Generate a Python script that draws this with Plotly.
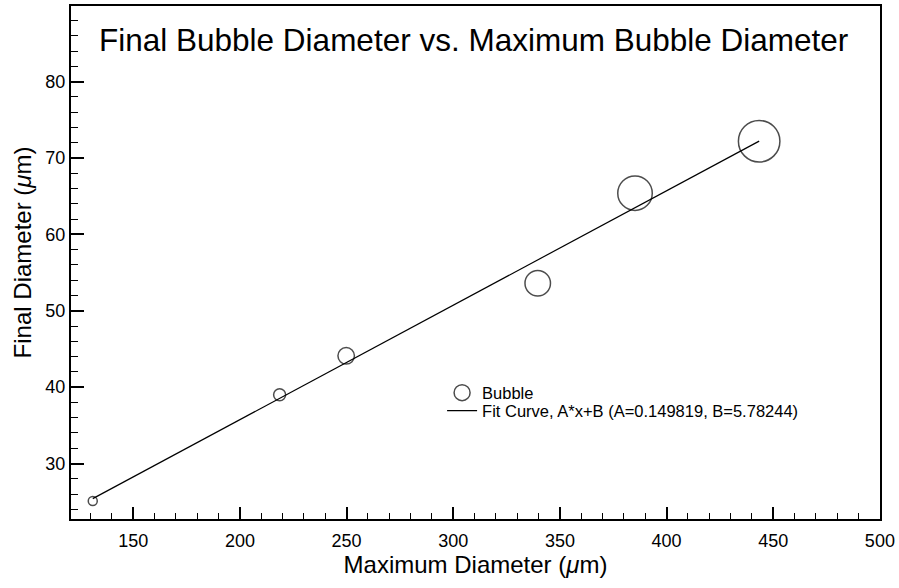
import plotly.graph_objects as go

# ---- data ----
max_diameter = [131.0, 218.6, 249.8, 339.6, 385.2, 443.4]
final_diameter = [25.1, 39.0, 44.1, 53.6, 65.4, 72.2]
bubble_size = [9, 12, 16.5, 25.5, 34.5, 41.5]

fit_A = 0.149819
fit_B = 5.78244

x_ticks = [150, 200, 250, 300, 350, 400, 450, 500]
y_ticks = [30, 40, 50, 60, 70, 80]

title_text = "Final Bubble Diameter vs. Maximum Bubble Diameter"
x_title = "Maximum Diameter (<i>μ</i>m)"
y_title = "Final Diameter (<i>μ</i>m)"
fit_name = "Fit Curve, A*x+B (A=%g, B=%g)" % (fit_A, fit_B)

# fit curve endpoints from data extent and fit parameters
fit_x = [min(max_diameter), max(max_diameter)]
fit_y = [fit_A * v + fit_B for v in fit_x]

FONT = "Liberation Sans, Arial, Helvetica, sans-serif"

fig = go.Figure()
fig.add_trace(go.Scatter(
    x=max_diameter, y=final_diameter, mode="markers", name="Bubble",
    marker=dict(symbol="circle-open", size=bubble_size, color="black",
                line=dict(width=1.5, color="black")),
    legend="legend",
))
fig.add_trace(go.Scatter(
    x=fit_x, y=fit_y, mode="lines", name=fit_name,
    line=dict(color="black", width=1.2),
    legend="legend2",
))

axis_common = dict(
    showline=True, linecolor="black", linewidth=2, mirror=True,
    showgrid=False, zeroline=False,
    ticks="inside", tickcolor="black", tickwidth=2,
    tickfont=dict(family=FONT, size=18, color="black"),
)

fig.update_xaxes(
    range=[120.8, 500.05], tickvals=x_ticks, ticklen=12, ticklabelstandoff=4,
    minor=dict(dtick=10, tick0=0, ticks="inside", ticklen=6, tickwidth=1, tickcolor="black"),
    title=dict(text=x_title, font=dict(family=FONT, size=24, color="black"), standoff=7),
    **axis_common,
)
fig.update_yaxes(
    range=[22.74, 89.9], tickvals=y_ticks, ticklen=13,
    minor=dict(dtick=2, tick0=0, ticks="inside", ticklen=7, tickwidth=1, tickcolor="black"),
    **axis_common,
)

legend_common = dict(
    xanchor="left", yanchor="middle",
    bgcolor="rgba(0,0,0,0)", borderwidth=0,
    font=dict(family=FONT, size=16.5, color="black"),
    itemwidth=30,
)

fig.update_layout(
    width=899, height=588,
    margin=dict(l=71, r=17, t=4, b=69),
    paper_bgcolor="white", plot_bgcolor="white",
    font=dict(family=FONT, color="black"),
    showlegend=True,
    legend=dict(x=0.4587, y=0.2457, **legend_common),
    legend2=dict(x=0.4587, y=0.2107, **legend_common),
    annotations=[
        dict(
            text=title_text, xref="paper", yref="paper", x=0.497, y=0.933,
            xanchor="center", yanchor="middle", showarrow=False,
            font=dict(family=FONT, size=31.5, color="black"),
        ),
        dict(
            text=y_title, xref="paper", yref="paper", x=-0.0604, y=0.520,
            xanchor="center", yanchor="middle", showarrow=False, textangle=-90,
            font=dict(family=FONT, size=24, color="black"),
        ),
    ],
)

fig.write_html("out.html", config={"displayModeBar": False},
               post_script="document.body.style.margin='0';")
